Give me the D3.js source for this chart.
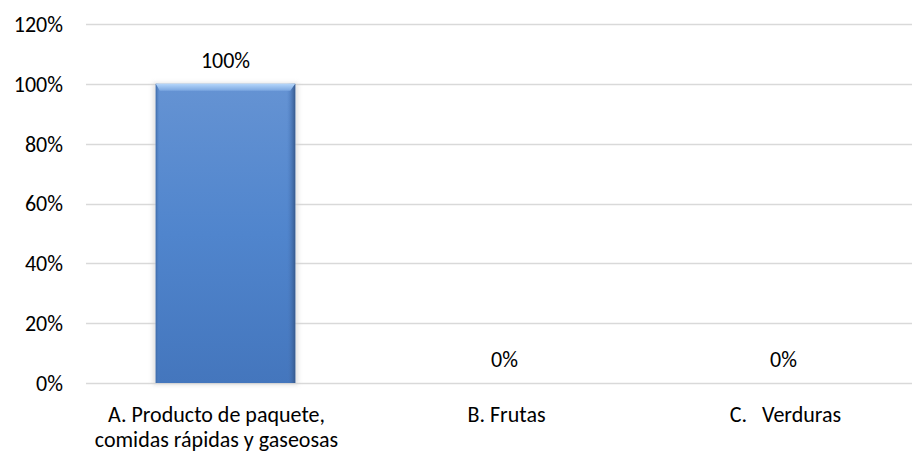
<!DOCTYPE html>
<html>
<head>
<meta charset="utf-8">
<script src="https://cdn.jsdelivr.net/npm/d3@7"></script>
<style>
  body { margin: 0; background: #fff; }
  svg text { font-family: Carlito, Calibri, Lato, sans-serif; fill: #000; }
</style>
</head>
<body>
<div id="container"></div>
<script>
// chart data
const categories = ["A", "B", "C"]
const categoryLabels = [
  ["A. Producto de paquete,", "comidas rápidas y gaseosas"],
  ["B. Frutas"],
  ["C.   Verduras"]
]
const values = [1.0, 0, 0]
const yTicks = [0, 0.2, 0.4, 0.6, 0.8, 1.0, 1.2]

const width = 912
const height = 455
const svg = d3.create("svg")
  .attr("width", width)
  .attr("height", height)
container.append(svg.node())

const x = d3.scaleBand()
  .domain(categories)
  .range([86, 923])
  .paddingInner(0.5)
  .paddingOuter(0.25)

const y = d3.scaleLinear()
  .domain([0, 1.2])
  .range([383, 24])

const pct = d3.format(".0%")

// gradients for the bevelled bar
const defs = svg.append("defs")
const body = defs.append("linearGradient").attr("id", "body")
  .attr("x1", 0).attr("y1", 0).attr("x2", 0).attr("y2", 1)
body.append("stop").attr("offset", "0%").attr("stop-color", "#6593d3")
body.append("stop").attr("offset", "50%").attr("stop-color", "#5085cd")
body.append("stop").attr("offset", "100%").attr("stop-color", "#4476bd")

const side = defs.append("linearGradient").attr("id", "side")
  .attr("x1", 0).attr("y1", 0).attr("x2", 1).attr("y2", 0)
side.append("stop").attr("offset", "0%").attr("stop-color", "#3d6aa8")
side.append("stop").attr("offset", "3%").attr("stop-color", "#5a8bcd").attr("stop-opacity", 0)
side.append("stop").attr("offset", "94%").attr("stop-color", "#4a7bc2").attr("stop-opacity", 0)
side.append("stop").attr("offset", "100%").attr("stop-color", "#36598c")

const bevel = defs.append("linearGradient").attr("id", "topbevel")
  .attr("x1", 0).attr("y1", 0).attr("x2", 0).attr("y2", 1)
bevel.append("stop").attr("offset", "0%").attr("stop-color", "#b5d6fa")
bevel.append("stop").attr("offset", "100%").attr("stop-color", "#7aa6e0")

defs.append("filter").attr("id", "blur")
  .attr("x", "-20%").attr("y", "-20%").attr("width", "140%").attr("height", "140%")
  .append("feGaussianBlur").attr("stdDeviation", 2)

// gridlines
svg.append("g")
  .selectAll("line")
  .data(yTicks)
  .join("line")
  .attr("x1", 86)
  .attr("x2", width)
  .attr("y1", d => Math.round(y(d)) + 0.5)
  .attr("y2", d => Math.round(y(d)) + 0.5)
  .style("stroke", "#d9d9d9")
  .style("stroke-width", 1.5)

// y tick labels
svg.append("g")
  .selectAll("text")
  .data(yTicks)
  .join("text")
  .attr("x", 63)
  .attr("y", d => y(d))
  .attr("dy", "0.36em")
  .attr("text-anchor", "end")
  .style("font-size", "22px")
  .text(d => pct(d))

// bars
const barData = categories.map((c, i) => ({c, v: values[i]})).filter(d => d.v > 0)
const bars = svg.append("g")
  .selectAll("g")
  .data(barData)
  .join("g")

bars.append("rect")
  .attr("x", d => x(d.c) - 3)
  .attr("y", d => y(d.v) - 1)
  .attr("width", x.bandwidth() + 6)
  .attr("height", d => y(0) - y(d.v) + 3)
  .style("fill", "#cfcfcf")
  .style("opacity", 0.6)
  .attr("filter", "url(#blur)")

bars.append("rect")
  .attr("x", d => x(d.c))
  .attr("y", d => y(d.v))
  .attr("width", x.bandwidth())
  .attr("height", d => y(0) - y(d.v))
  .style("fill", "url(#body)")

bars.append("rect")
  .attr("x", d => x(d.c))
  .attr("y", d => y(d.v))
  .attr("width", x.bandwidth())
  .attr("height", d => y(0) - y(d.v))
  .style("fill", "url(#side)")

bars.append("path")
  .attr("d", d => {
    const x0 = x(d.c), x1 = x0 + x.bandwidth(), y0 = y(d.v)
    return `M${x0},${y0}L${x1},${y0}L${x1 - 5},${y0 + 7}L${x0 + 4},${y0 + 7}Z`
  })
  .style("fill", "url(#topbevel)")

// data labels
svg.append("g")
  .selectAll("text")
  .data(categories.map((c, i) => ({c, v: values[i]})))
  .join("text")
  .attr("x", d => x(d.c) + x.bandwidth() / 2)
  .attr("y", d => y(d.v) - 16)
  .attr("text-anchor", "middle")
  .style("font-size", "22px")
  .text(d => pct(d.v))

// category labels (the two-line one sits a little left of its bar)
const cats = svg.append("g")
  .selectAll("text")
  .data(categories.map((c, i) => ({c, lines: categoryLabels[i]})))
  .join("text")
  .attr("y", 422)
  .attr("text-anchor", "middle")
  .style("font-size", "22px")
  .style("white-space", "pre")

cats.selectAll("tspan")
  .data(d => d.lines.map(l => ({l, n: d.lines.length, cx: x(d.c) + x.bandwidth() / 2})))
  .join("tspan")
  .attr("x", d => d.n > 1 ? d.cx - 9 : d.cx + 2)
  .attr("dy", (d, i) => i === 0 ? 0 : 25)
  .text(d => d.l)
</script>
</body>
</html>
